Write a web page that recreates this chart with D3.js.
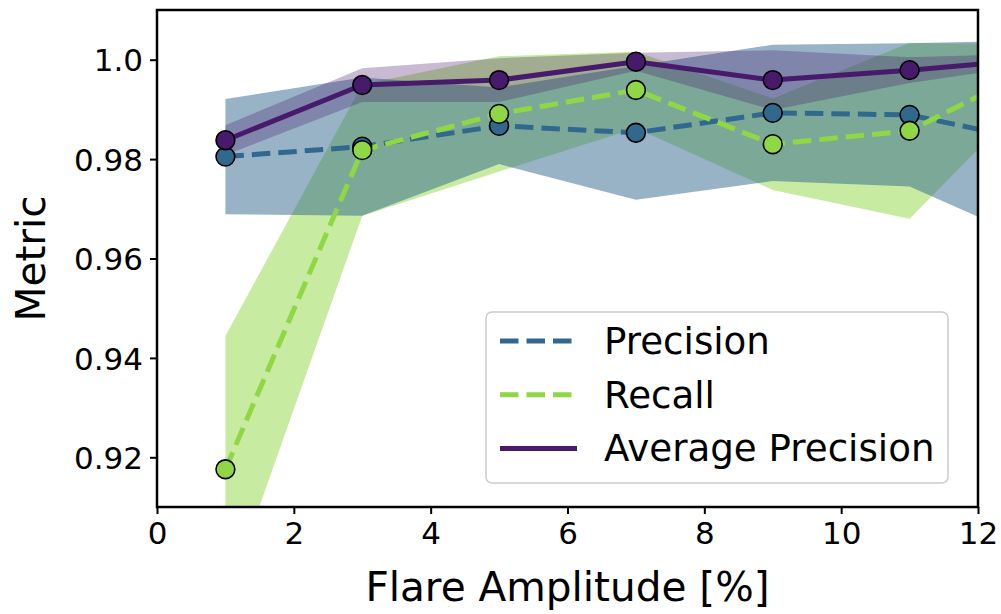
<!DOCTYPE html>
<html>
<head>
<meta charset="utf-8">
<script src="https://cdn.jsdelivr.net/npm/d3@7/dist/d3.min.js"></script>
<style>
  html, body { margin: 0; padding: 0; background: #ffffff; }
  svg { display: block; }
  text { font-family: "DejaVu Sans", sans-serif; fill: #000; }
</style>
</head>
<body>
<svg id="chart" width="1001" height="614"></svg>
<script>
// Flare amplitude (%) at which each metric was evaluated
const amplitude = [1, 3, 5, 7, 9, 11, 13];

// Mean metric values and their standard deviations
const precision   = [0.9805, 0.9825, 0.9867, 0.9853, 0.9893, 0.9889, 0.9831];
const precisionSd = [0.0116, 0.0139, 0.0077, 0.0135, 0.0137, 0.0144, 0.0208];
const recall      = [0.9176, 0.9818, 0.9891, 0.9939, 0.9830, 0.9857, 0.9995];
const recallSd    = [0.0268, 0.0132, 0.0116, 0.0077, 0.0092, 0.0177, 0.0035];
const avgPrec     = [0.9838, 0.9949, 0.9959, 0.9996, 0.9959, 0.9979, 1.0003];
const avgPrecSd   = [0.0030, 0.0034, 0.0044, 0.0018, 0.0060, 0.0026, 0.0010];

// Axis ticks
const xTicks = [0, 2, 4, 6, 8, 10, 12];
const yTicks = [0.92, 0.94, 0.96, 0.98, 1.0];
const yTickLabels = ["0.92", "0.94", "0.96", "0.98", "1.0"];

const seriesNames = ["Precision", "Recall", "Average Precision"];

const series = [
  { name: seriesNames[0], mean: precision, sd: precisionSd, color: "#31688e", fillOpacity: 0.5, dash: "18.5,8" },
  { name: seriesNames[1], mean: recall,    sd: recallSd,    color: "#8fd744", fillOpacity: 0.5, dash: "18.5,8" },
  { name: seriesNames[2], mean: avgPrec,   sd: avgPrecSd,   color: "#481a6c", fillOpacity: 0.3, dash: null }
];

// Bands are stacked recall, precision, average precision
const bandOrder = [series[1], series[0], series[2]];

const svg = d3.select("#chart");
const plot = { left: 157, right: 978, top: 10, bottom: 507 };

const x = d3.scaleLinear().domain([0, 12]).range([plot.left, plot.right]);
const y = d3.scaleLinear().domain([0.91, 1.01]).range([plot.bottom, plot.top]);

svg.append("defs").append("clipPath").attr("id", "plotClip")
  .append("rect")
  .attr("x", plot.left).attr("y", plot.top)
  .attr("width", plot.right - plot.left).attr("height", plot.bottom - plot.top);

const layer = svg.append("g").attr("clip-path", "url(#plotClip)");

// Shaded mean ± sd bands
bandOrder.forEach(s => {
  const pts = amplitude.map((a, i) => ({ a, m: s.mean[i], sd: s.sd[i] }));
  const area = d3.area()
    .x(d => x(d.a))
    .y0(d => y(d.m - d.sd))
    .y1(d => y(d.m + d.sd));
  layer.append("path")
    .datum(pts)
    .attr("d", area)
    .attr("fill", s.color)
    .attr("fill-opacity", s.fillOpacity)
    .attr("stroke", "none");
});

// Mean lines
series.forEach(s => {
  const pts = amplitude.map((a, i) => ({ a, m: s.mean[i] }));
  const line = d3.line().x(d => x(d.a)).y(d => y(d.m));
  layer.append("path")
    .datum(pts)
    .attr("d", line)
    .attr("fill", "none")
    .attr("stroke", s.color)
    .attr("stroke-width", 5)
    .attr("stroke-dasharray", s.dash)
    .attr("stroke-linejoin", "round");
});

// Circle markers
series.forEach(s => {
  layer.selectAll(null)
    .data(amplitude.map((a, i) => ({ a, m: s.mean[i] })))
    .enter().append("circle")
    .attr("cx", d => x(d.a))
    .attr("cy", d => y(d.m))
    .attr("r", 9.4)
    .attr("fill", s.color)
    .attr("stroke", "#000")
    .attr("stroke-width", 1.6);
});

// Axes
const xAxis = d3.axisBottom(x).tickValues(xTicks).tickFormat(d3.format("d"))
  .tickSizeInner(7).tickSizeOuter(0).tickPadding(8);
const yAxis = d3.axisLeft(y).tickValues(yTicks)
  .tickFormat((d, i) => yTickLabels[i])
  .tickSizeInner(7).tickSizeOuter(0).tickPadding(7);

const gx = svg.append("g").attr("transform", `translate(0,${plot.bottom})`).call(xAxis);
const gy = svg.append("g").attr("transform", `translate(${plot.left},0)`).call(yAxis);
[gx, gy].forEach(g => {
  g.select(".domain").remove();
  g.selectAll(".tick line").attr("stroke", "#000").attr("stroke-width", 2);
  g.selectAll(".tick text")
    .attr("font-family", "DejaVu Sans, sans-serif")
    .attr("font-size", 31)
    .attr("fill", "#000");
});
gy.selectAll(".tick text").attr("dy", "0.36em");

// Frame
svg.append("rect")
  .attr("x", plot.left).attr("y", plot.top)
  .attr("width", plot.right - plot.left).attr("height", plot.bottom - plot.top)
  .attr("fill", "none").attr("stroke", "#000").attr("stroke-width", 2.5);

// Axis titles
svg.append("text")
  .attr("x", (plot.left + plot.right) / 2)
  .attr("y", 601)
  .attr("text-anchor", "middle")
  .attr("font-size", 40.6)
  .text("Flare Amplitude [%]");

svg.append("text")
  .attr("transform", `translate(45,${(plot.top + plot.bottom) / 2}) rotate(-90)`)
  .attr("text-anchor", "middle")
  .attr("font-size", 40.6)
  .text("Metric");

// Legend
const legend = svg.append("g");
legend.append("rect")
  .attr("x", 486).attr("y", 312)
  .attr("width", 462).attr("height", 171)
  .attr("rx", 6).attr("ry", 6)
  .attr("fill", "#fff").attr("fill-opacity", 0.8)
  .attr("stroke", "#cccccc").attr("stroke-width", 1.5);

series.forEach((s, i) => {
  const cy = 341 + i * 53.7;
  legend.append("line")
    .attr("x1", 500).attr("x2", 577)
    .attr("y1", cy).attr("y2", cy)
    .attr("stroke", s.color)
    .attr("stroke-width", 5)
    .attr("stroke-dasharray", s.dash);
  legend.append("text")
    .attr("x", 604)
    .attr("y", cy + 13)
    .attr("font-size", 37.2)
    .text(s.name);
});
</script>
</body>
</html>
